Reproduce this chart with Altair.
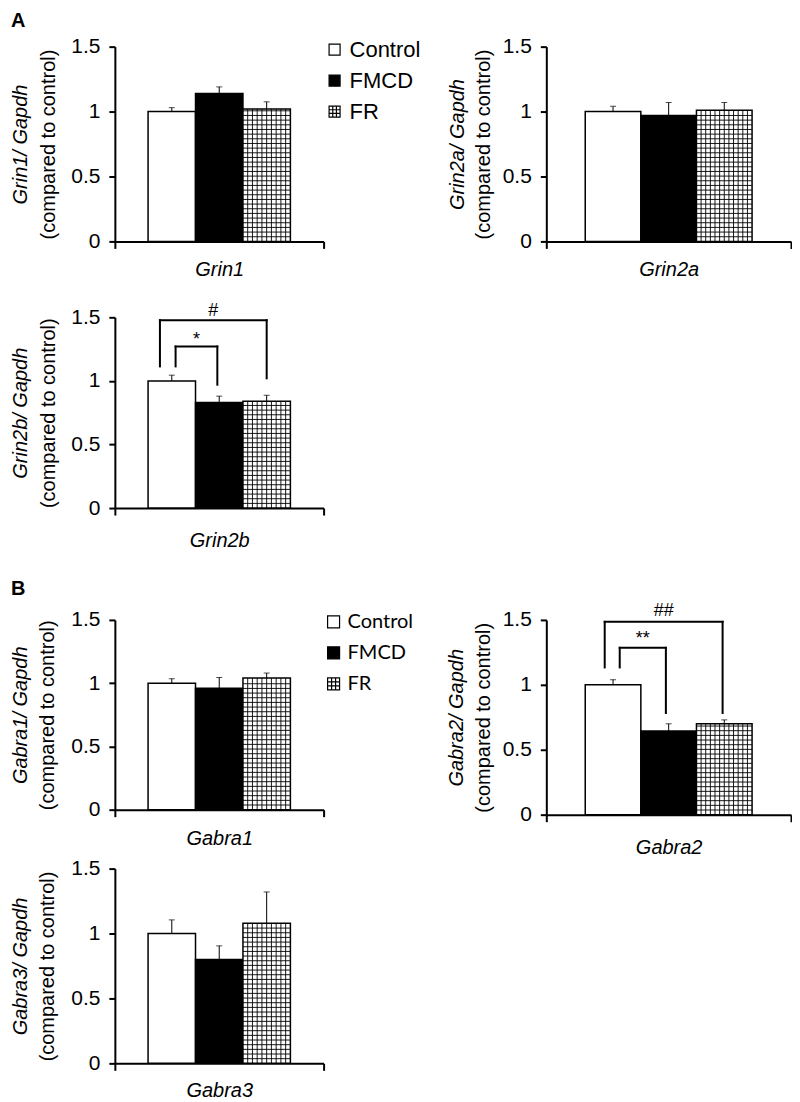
import altair as alt
import pandas as pd
import numpy as np

groups = ["Control", "FMCD", "FR"]
positions = [0, 1, 2]
bar_fills = ["white", "black", "white"]

grin1_mean = [1.00, 1.14, 1.02]
grin1_sem = [0.03, 0.05, 0.055]
grin2a_mean = [1.00, 0.97, 1.01]
grin2a_sem = [0.04, 0.10, 0.06]
grin2b_mean = [1.00, 0.83, 0.84]
grin2b_sem = [0.045, 0.05, 0.047]
gabra1_mean = [1.00, 0.96, 1.04]
gabra1_sem = [0.035, 0.085, 0.04]
gabra2_mean = [1.00, 0.645, 0.70]
gabra2_sem = [0.04, 0.055, 0.03]
gabra3_mean = [1.00, 0.80, 1.08]
gabra3_sem = [0.105, 0.105, 0.24]

y_ticks = [0, 0.5, 1, 1.5]

# significance brackets (segments in data units)
grin2b_seg_x = [-0.25, -0.25, 2.0, 0.08, 0.08, 0.96]
grin2b_seg_x2 = [2.0, -0.25, 2.0, 0.96, 0.08, 0.96]
grin2b_seg_y = [1.477, 1.114, 1.02, 1.27, 1.114, 0.97]
grin2b_seg_y2 = [1.477, 1.477, 1.477, 1.27, 1.27, 1.27]
grin2b_sig = ["#", "*"]
grin2b_sig_x = [0.875, 0.52]
grin2b_sig_y = [1.55, 1.32]

gabra2_seg_x = [-0.15, -0.15, 1.97, 0.12, 0.12, 0.95]
gabra2_seg_x2 = [1.97, -0.15, 1.97, 0.95, 0.12, 0.95]
gabra2_seg_y = [1.485, 1.134, 0.783, 1.285, 1.134, 0.783]
gabra2_seg_y2 = [1.485, 1.485, 1.485, 1.285, 1.285, 1.285]
gabra2_sig = ["##", "**"]
gabra2_sig_x = [0.91, 0.535]
gabra2_sig_y = [1.565, 1.35]

XD = [-1.2, 3.2]
FONT = "Liberation Sans"
SQ = "M-1,-1H1V1H-1Z"
GRIDP = "M-1,-1H1V1H-1Z M-0.333,-1V1 M0.333,-1V1 M-1,-0.333H1 M-1,0.333H1"


def fr_pattern(v, w, h):
    unit_px = w / (XD[1] - XD[0])
    n = max(2, int(round(unit_px / 4.67)))
    vx = [1.5 + k / n for k in range(1, n)]
    py = 4.67 * 1.5 / h
    hy = list(np.arange(py, v - py * 0.3, py))
    rows = [dict(x=x, x2=x, y=0.0, y2=v) for x in vx]
    rows += [dict(x=1.5, x2=2.5, y=y, y2=y) for y in hy]
    return pd.DataFrame(rows)


def panel(gene, means, sems, w, h, t2x, t1x, xpad, seg=None, sig=None,
          legend=None, letter=None):
    df = pd.DataFrame({"group": groups, "pos": positions, "mean": means,
                       "sem": sems})
    df["left"] = df["pos"] - 0.5
    df["right"] = df["pos"] + 0.5
    df["top"] = df["mean"] + df["sem"]
    df["zero"] = 0.0
    xs = alt.Scale(domain=XD)
    ys = alt.Scale(domain=[0, 1.5])
    base = alt.Chart(df)

    layers = []
    for i, g in enumerate(groups):
        if i == 0:
            xax = alt.Axis(values=XD, labels=False, grid=False, tickSize=7,
                           title=gene, titleFontStyle="italic",
                           titlePadding=xpad, titleFontSize=20)
            yax = alt.Axis(values=y_ticks, format="~g", tickSize=6, grid=False,
                           labelFontSize=21, labelPadding=9, orient="left",
                           title="(compared to control)", titleX=t2x,
                           titleY=h / 2, titleBaseline="middle",
                           titleFontSize=20)
        else:
            xax = None
            yax = None
        layers.append(base.transform_filter(alt.datum.group == g).mark_bar(
            fill=bar_fills[i], stroke="black", strokeWidth=1.5).encode(
            x=alt.X("left:Q", scale=xs, axis=xax),
            x2="right:Q",
            y=alt.Y("mean:Q", scale=ys, axis=yax),
            y2="zero:Q",
        ))

    layers.append(alt.Chart(fr_pattern(means[2], w, h)).mark_rule(
        color="black", strokeWidth=0.9).encode(
        x=alt.X("x:Q", scale=xs, axis=None), x2="x2:Q",
        y=alt.Y("y:Q", scale=ys, axis=None), y2="y2:Q"))

    layers.append(base.mark_rule(color="black", strokeWidth=1).encode(
        x=alt.X("pos:Q", scale=xs, axis=None),
        y=alt.Y("mean:Q", scale=ys,
                axis=alt.Axis(orient="left", title=f"{gene}/ Gapdh",
                              titleFontStyle="italic", domain=False, ticks=False,
                              labels=False, grid=False, titleX=t1x, titleY=h / 2,
                              titleBaseline="middle", titleFontSize=20)),
        y2="top:Q",
    ))
    layers.append(base.mark_tick(orient="horizontal", size=6, thickness=1,
                                 color="black").encode(
        x=alt.X("pos:Q", scale=xs, axis=None),
        y=alt.Y("top:Q", scale=ys, axis=None)))

    if seg is not None:
        sdf = pd.DataFrame({"x": seg[0], "x2": seg[1], "y": seg[2], "y2": seg[3]})
        layers.append(alt.Chart(sdf).mark_rule(color="black", strokeWidth=2,
                                               strokeCap="square").encode(
            x=alt.X("x:Q", scale=xs, axis=None), x2="x2:Q",
            y=alt.Y("y:Q", scale=ys, axis=None), y2="y2:Q"))
    if sig is not None:
        tdf = pd.DataFrame({"t": sig[0], "x": sig[1], "y": sig[2]})
        layers.append(alt.Chart(tdf).mark_text(font=FONT, fontSize=18,
                                               fill="#000000", baseline="middle").encode(
            x=alt.X("x:Q", scale=xs, axis=None),
            y=alt.Y("y:Q", scale=ys, axis=None), text="t:N"))
    if legend is not None:
        lx, ly, lfont, lsize, rpad, ssize = legend
        leg = alt.Legend(title=None, orient="none", legendX=lx, legendY=ly,
                         labelFont=lfont, labelFontSize=lsize, labelOffset=4,
                         rowPadding=rpad, symbolSize=ssize, symbolStrokeColor="black",
                         symbolStrokeWidth=1.2, symbolOpacity=1, padding=0,
                         labelColor="black")
        layers.append(base.mark_point(
            filled=True, opacity=0, strokeWidth=1.2).encode(
            x=alt.X("pos:Q", scale=xs, axis=None),
            y=alt.Y("zero:Q", scale=ys, axis=None),
            fill=alt.Fill("group:N", scale=alt.Scale(domain=groups, range=bar_fills),
                          legend=leg),
            stroke=alt.Stroke("group:N",
                              scale=alt.Scale(domain=groups,
                                              range=["black", "black", "black"]),
                              legend=leg),
            shape=alt.Shape("group:N", scale=alt.Scale(domain=groups,
                                                       range=[SQ, SQ, GRIDP]),
                            legend=leg)))
    if letter is not None:
        lt, ly_letter = letter
        layers.append(alt.Chart(pd.DataFrame({"t": [lt]})).mark_text(
            font=FONT, fontSize=20, fontWeight="bold", align="left",
            baseline="top", color="black").encode(
            x=alt.value(-104), y=alt.value(ly_letter), text="t:N"))

    return alt.layer(*layers).resolve_axis(
        x="independent", y="independent").properties(width=w, height=h)


def spacer(w, h):
    return alt.Chart(pd.DataFrame({"v": [0]})).mark_point(opacity=0).encode(
        x=alt.value(0), y=alt.value(0)).properties(width=w, height=h)


WL, WR = 209, 245

a1 = panel("Grin1", grin1_mean, grin1_sem, WL, 195, -66, -94, 10,
           legend=(209, -8, FONT, 22, 9, 121), letter=("A", -36))
a2 = panel("Grin2a", grin2a_mean, grin2a_sem, WR, 195, -63, -89, 10)
a3 = panel("Grin2b", grin2b_mean, grin2b_sem, WL, 191, -66, -94, 14,
           seg=(grin2b_seg_x, grin2b_seg_x2, grin2b_seg_y, grin2b_seg_y2),
           sig=(grin2b_sig, grin2b_sig_x, grin2b_sig_y))
b1 = panel("Gabra1", gabra1_mean, gabra1_sem, WL, 190, -67, -94, 11,
           legend=(209, -8, "Lato", 20, 11, 144), letter=("B", -41))
b2 = panel("Gabra2", gabra2_mean, gabra2_sem, WR, 195, -63, -90, 15,
           seg=(gabra2_seg_x, gabra2_seg_x2, gabra2_seg_y, gabra2_seg_y2),
           sig=(gabra2_sig, gabra2_sig_x, gabra2_sig_y))
b3 = panel("Gabra3", gabra3_mean, gabra3_sem, WL, 195, -67, -94, 9)

cells = [a1, a2,
         spacer(1, 76), spacer(1, 76),
         a3, spacer(1, 1),
         spacer(1, 112), spacer(1, 112),
         b1, b2,
         spacer(1, 54), spacer(1, 54),
         b3, spacer(1, 1)]

chart = alt.concat(*cells, columns=2, spacing={"row": 0, "column": 223},
                   bounds="flush", align="each").resolve_scale(
    fill="independent", shape="independent", stroke="independent"
).properties(
    padding={"left": 2, "top": 2, "right": 0, "bottom": 0}
).configure_view(stroke=None).configure_axis(
    domainColor="black", domainWidth=2, tickColor="black", tickWidth=2,
    labelColor="black", titleColor="black", labelFont=FONT, titleFont=FONT,
    titleFontWeight="normal"
)

chart.save("out.html", embed_options={"renderer": "svg", "actions": False})
